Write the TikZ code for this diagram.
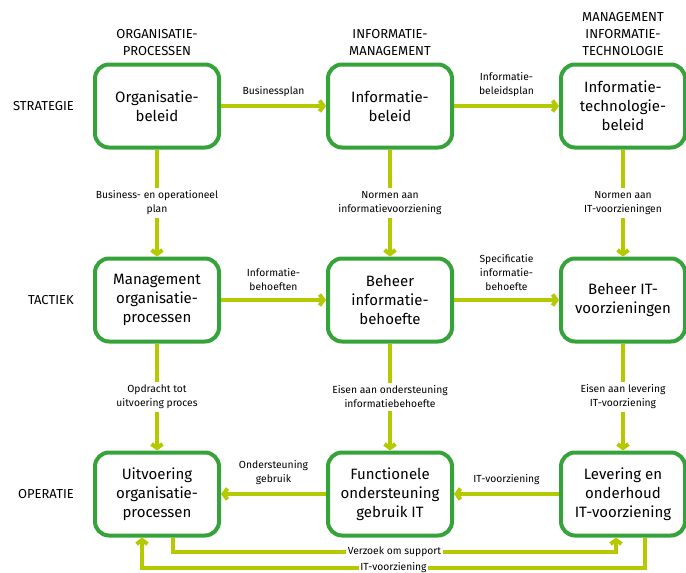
\documentclass[tikz,border=0pt]{standalone}
\usepackage{fontspec}
\setmainfont{Fira Sans}
\usetikzlibrary{arrows.meta, positioning}

\definecolor{boxgreen}{HTML}{36A33A}
\definecolor{flowlime}{HTML}{B5C900}

\begin{document}
\begin{tikzpicture}[
            > = {Straight Barb[length=4pt, width=11pt]}, % arrow head style
            node distance = 107pt and 105pt, % distance between boxes
            flow/.style = {->, draw = flowlime, line width = 4pt},
            lbl/.style = {
                fill = white,
                align = center,
                inner sep = 3pt,
                font = \fontsize{10.3}{14}\selectfont
            },
            box/.style = {
                draw = boxgreen,
                line width = 4pt,
                rounded corners = 14pt,
                fill = white,
                minimum width = 124pt,
                minimum height = 83pt,
                inner sep = 2pt,
                align = center,
                font = \fontsize{15}{19}\selectfont
            },
            head/.style = {align = center, inner sep = 0pt, font = \fontsize{13}{17}\selectfont},
            level/.style = {inner sep = 0pt, font = \fontsize{13}{14}\selectfont}
        ]

        \useasboundingbox (0,0) rectangle (686pt,-573pt);

        % boxes
        \node[box] (orgbeleid) at (157pt,-106pt) {Organisatie-\\beleid};
        \node[box] (infobeleid) [right=of orgbeleid] {Informatie-\\beleid};
        \node[box] (itbeleid) [right=of infobeleid] {Informatie-\\technologie-\\beleid};

        \node[box] (mgtorg) [below=of orgbeleid] {Management\\organisatie-\\processen};
        \node[box] (beheerinfo) [right=of mgtorg] {Beheer\\informatie-\\behoefte};
        \node[box] (beheerit) [right=of beheerinfo] {Beheer IT-\\voorzieningen};

        \node[box] (uitvoering) [below=of mgtorg] {Uitvoering\\organisatie-\\processen};
        \node[box] (functioneel) [right=of uitvoering] {Functionele\\ondersteuning\\gebruik IT};
        \node[box] (levering) [right=of functioneel] {Levering en\\onderhoud\\IT-voorziening};

        % column heads and levels
        \node[head] (hdorg) [above=7pt of orgbeleid] {ORGANISATIE-\\PROCESSEN};
        \node[head] (hdinfo) [above=7pt of infobeleid] {INFORMATIE-\\MANAGEMENT};
        \node[head] (hdit) [above=7pt of itbeleid] {MANAGEMENT\\INFORMATIE-\\TECHNOLOGIE};

        \node[level] (strategie) [left=19pt of orgbeleid] {STRATEGIE};
        \node[level] (tactiek) [left=19pt of mgtorg] {TACTIEK};
        \node[level] (operatie) [left=19pt of uitvoering] {OPERATIE};

        % flows
        \draw[flow] (orgbeleid) -- node[lbl, above=4pt] {Businessplan} (infobeleid);
        \draw[flow] (infobeleid) -- node[lbl, above=4pt] {Informatie-\\beleidsplan} (itbeleid);
        \draw[flow] (mgtorg) -- node[lbl, above=4pt] {Informatie-\\behoeften} (beheerinfo);
        \draw[flow] (beheerinfo) -- node[lbl, above=4pt] {Specificatie\\informatie-\\behoefte} (beheerit);
        \draw[flow] (levering) -- node[lbl, above=4pt] {IT-voorziening} (functioneel);
        \draw[flow] (functioneel) -- node[lbl, above=4pt] {Ondersteuning\\gebruik} (uitvoering);

        \draw[flow] (orgbeleid) -- node[lbl] {Business- en operationeel\\plan} (mgtorg);
        \draw[flow] (infobeleid) -- node[lbl] {Normen aan\\informatievoorziening} (beheerinfo);
        \draw[flow] (itbeleid) -- node[lbl] {Normen aan\\IT-voorzieningen} (beheerit);
        \draw[flow] (mgtorg) -- node[lbl] {Opdracht tot\\uitvoering proces} (uitvoering);
        \draw[flow] (beheerinfo) -- node[lbl] {Eisen aan ondersteuning\\informatiebehoefte} (functioneel);
        \draw[flow] (beheerit) -- node[lbl] {Eisen aan levering\\IT-voorziening} (levering);

        \draw[flow] ([xshift=16pt]uitvoering.south) -- ++(0,-14pt)
            -| node[lbl, pos=0.25, inner sep=2pt] {Verzoek om support} ([xshift=-7pt]levering.south);
        \draw[flow] ([xshift=22pt]levering.south) -- ++(0,-30pt)
            -| node[lbl, pos=0.25, inner sep=1pt] {IT-voorziening} ([xshift=-15pt]uitvoering.south);

  \end{tikzpicture}
\end{document}
